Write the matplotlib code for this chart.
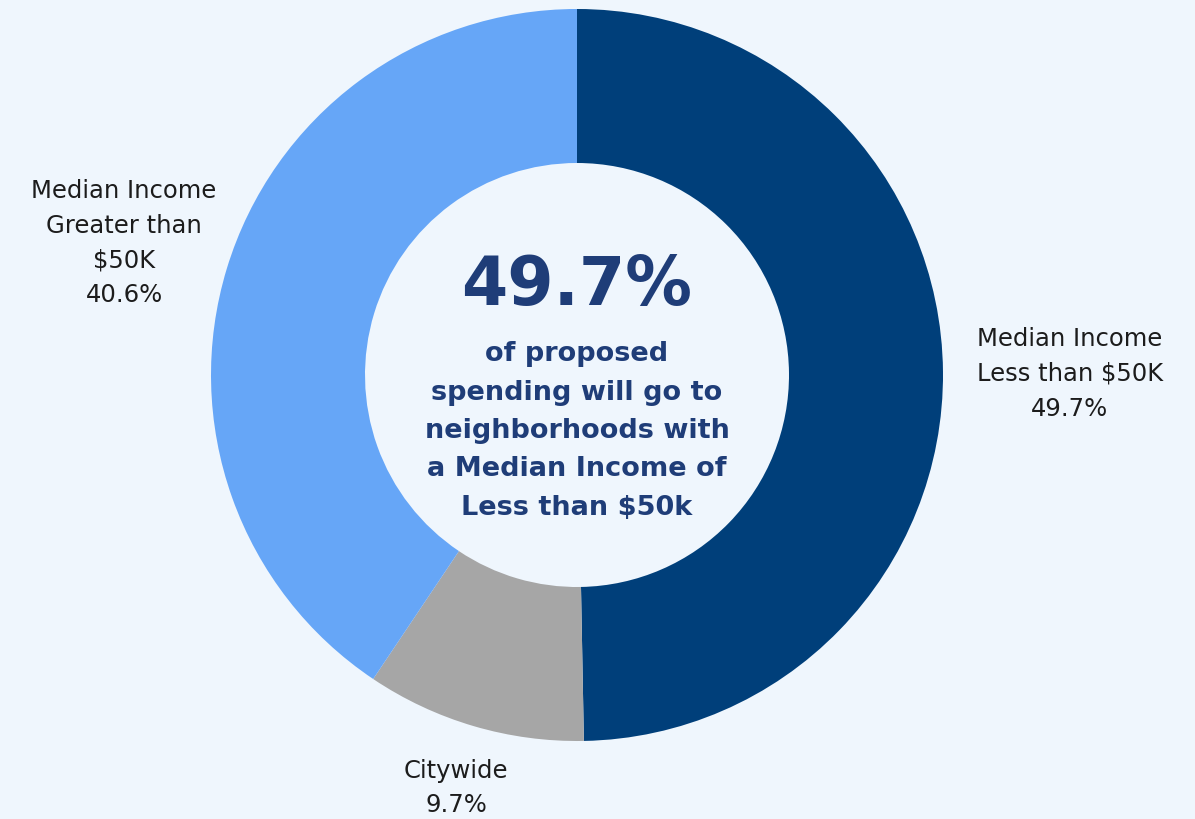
import matplotlib.pyplot as plt

labels = ["Median Income\nLess than $50K", "Citywide", "Median Income\nGreater than\n$50K"]
shares = [49.7, 9.7, 40.6]
colors = ["#003f7a", "#a6a6a6", "#66a6f7"]

bg = "#eff6fd"
fig = plt.figure(figsize=(11.95, 8.2), dpi=100, facecolor=bg)
ax = fig.add_axes([0, 0, 1, 1])
ax.set_facecolor(bg)

cx, cy = 577, 820 - 376
ax.pie(shares, colors=colors, startangle=90, counterclock=False,
       center=(cx, cy), radius=366, frame=True,
       wedgeprops=dict(width=154, linewidth=0))
ax.set_xlim(0, 1195)
ax.set_ylim(0, 820)
ax.set_aspect("equal")
ax.axis("off")

font = "DejaVu Sans"
lab_color = "#1c1c1c"
# slice labels
ax.text(1070, 820 - 374, f"{labels[0]}\n{shares[0]}%", ha="center", va="center",
        fontsize=17.5, family=font, color=lab_color, linespacing=1.57)
ax.text(456, 820 - 788, f"{labels[1]}\n{shares[1]}%", ha="center", va="center",
        fontsize=17.5, family=font, color=lab_color, linespacing=1.57)
ax.text(124, 820 - 243, f"{labels[2]}\n{shares[2]}%", ha="center", va="center",
        fontsize=17.5, family=font, color=lab_color, linespacing=1.57)

# centre text
centre_color = "#1f3d78"
ax.text(cx, 820 - 286, f"{shares[0]}%", ha="center", va="center",
        fontsize=48, fontweight="bold", family=font, color=centre_color)
ax.text(cx, 820 - 431, "of proposed\nspending will go to\nneighborhoods with\na Median Income of\nLess than $50k",
        ha="center", va="center", fontsize=19.5, fontweight="bold", family=font,
        color=centre_color, linespacing=1.62)

fig.savefig("out.png", dpi=100, facecolor=bg)
